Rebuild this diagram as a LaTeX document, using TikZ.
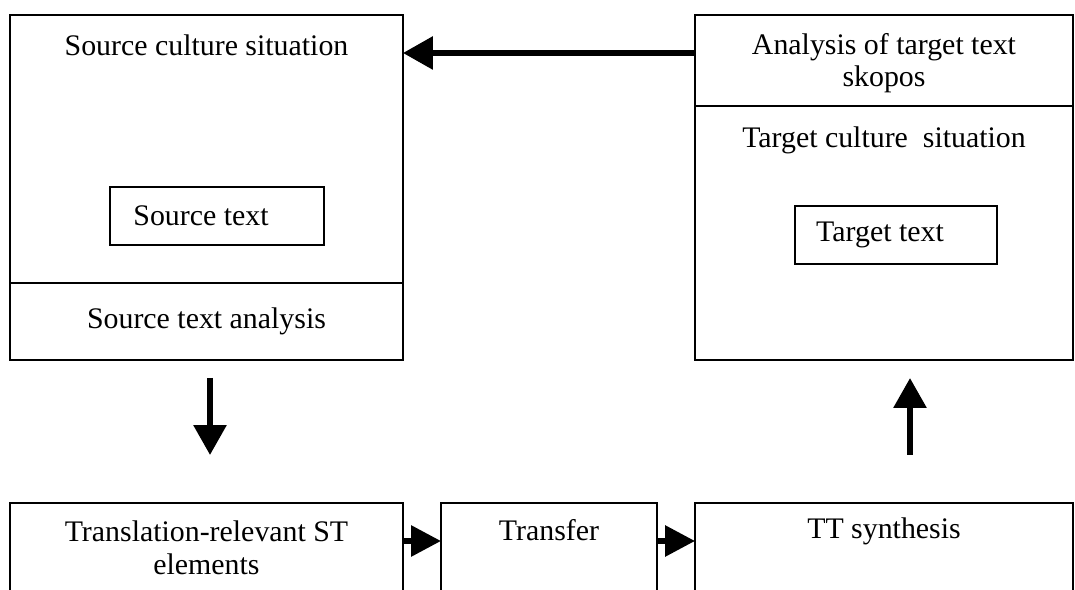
\documentclass[tikz,border=0pt]{standalone}
\usepackage{fontspec}
\setmainfont{Liberation Serif}
\usepackage{tikz}
\usetikzlibrary{arrows.meta,positioning}

\begin{document}
\begin{tikzpicture}[x=0.02cm,y=-0.02cm,
    box/.style={draw,line width=0.9pt,outer sep=0pt,inner sep=0pt,align=center,
      font=\fontsize{17}{18.5}\selectfont},
    head/.style={anchor=base,inner sep=0pt,align=center,font=\fontsize{17}{18.5}\selectfont},
    arr/.style={-{Triangle[length=6mm,width=6.4mm]},line width=1.2mm,black},
    sarr/.style={-{Triangle[length=6mm,width=6mm]},line width=1.2mm,black}
  ]
    \useasboundingbox (0,0) rectangle (1075,590);
    \clip (0,0) rectangle (1075,590);
    \node[box,minimum width=7.86cm,minimum height=5.36cm,
      label={[head,yshift=-0.8cm]north:Source culture situation}] (srcsit) at (206.5,149) {};
    \node[box,minimum width=7.86cm,minimum height=1.54cm,below=0pt of srcsit] (srcana)
      {Source text analysis};
    \node[box,minimum width=4.28cm,minimum height=1.16cm] (srctext) at (217,216)
      {\hspace*{-0.64cm}Source text};
    \node[box,minimum width=7.56cm,minimum height=1.82cm,
      label={[head,yshift=-1.44cm]north:Analysis of target text\\skopos}] (skopos) at (884,60.5) {};
    \node[box,minimum width=7.56cm,minimum height=5.08cm,below=0pt of skopos,
      label={[head,yshift=-0.84cm]north:Target culture\ \ situation}] (tgtsit) {};
    \node[box,minimum width=4.04cm,minimum height=1.16cm] (tgttext) at (896,235)
      {\hspace*{-0.64cm}Target text};
    \node[box,minimum width=7.86cm,minimum height=3cm,anchor=north,
      label={[head,yshift=-1.43cm]north:Translation-relevant ST\\elements}] (trse) at (206.5,503) {};
    \node[box,minimum width=4.32cm,minimum height=3cm,anchor=north,
      label={[head,yshift=-0.76cm]north:Transfer}] (transfer) at (549,503) {};
    \node[box,minimum width=7.56cm,minimum height=3cm,anchor=north,
      label={[head,yshift=-0.72cm]north:TT synthesis}] (ttsyn) at (884,503) {};
    \coordinate (dtop) at (210,378);
    \coordinate (dbot) at (210,455);
    \coordinate (utop) at (910,378);
    \coordinate (ubot) at (910,455);
    \draw[arr] (skopos.west |- 0,53) -- (srcsit.east |- 0,53);
    \draw[arr] (dtop) -- (dbot);
    \draw[arr] (ubot) -- (utop);
    \draw[sarr] (trse.east |- 0,541) -- (transfer.west |- 0,541);
    \draw[sarr] (transfer.east |- 0,541) -- (ttsyn.west |- 0,541);
  \end{tikzpicture}
\end{document}
